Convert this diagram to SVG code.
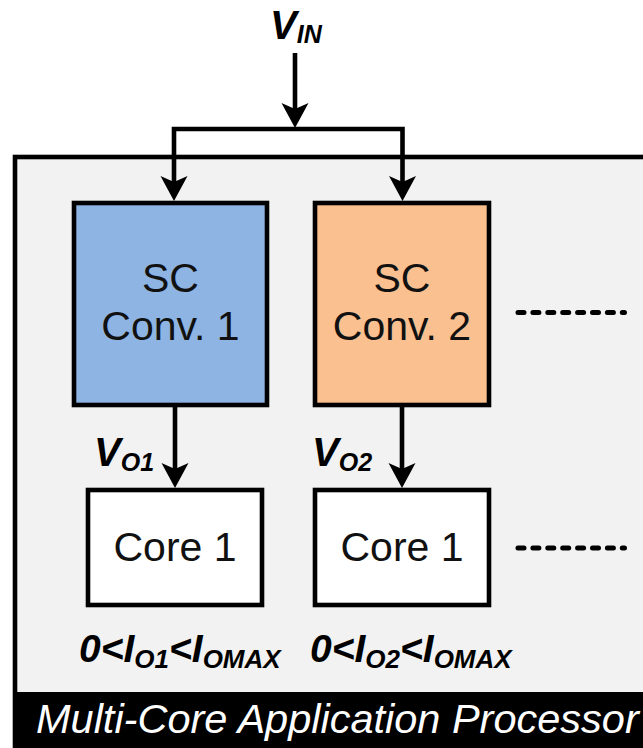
<svg xmlns="http://www.w3.org/2000/svg" width="643" height="748" viewBox="0 0 643 748">
  <style>
    .wire { fill: none; stroke: #000; stroke-width: 4.6; stroke-linejoin: miter; }
    .box { stroke: #000; stroke-width: 4.6; }
    .dots { stroke: #000; stroke-width: 5; stroke-linecap: round; stroke-dasharray: 6 8.9; }
    .lbl { font-family: "Liberation Sans", Arial, sans-serif; font-size: 41px; fill: #111; text-anchor: middle; }
    .sig { font-family: "Liberation Sans", Arial, sans-serif; font-weight: bold; font-style: italic; fill: #000; }
    .title { font-family: "Liberation Sans", Arial, sans-serif; font-style: italic; font-size: 41.5px; fill: #fff; }
  </style>
  <defs>
    <!-- downward arrowhead, tip at origin -->
    <path id="head" d="M0,0 L-13.5,-25 L0,-19 L13.5,-25 Z" fill="#000"/>
  </defs>

  <!-- processor enclosure -->
  <g id="processor">
    <rect x="15" y="157" width="700" height="620" fill="#f2f2f2" class="box"/>
    <rect x="13" y="692" width="640" height="60" fill="#000"/>
    <text class="title" x="36" y="733">Multi-Core Application Processor</text>
  </g>

  <!-- input supply label -->
  <g id="vin">
    <text class="sig" x="270" y="39" font-size="40">V<tspan font-size="25" dy="4">IN</tspan></text>
  </g>

  <g id="sc1">
    <rect x="74" y="203" width="193" height="202" fill="#8eb4e3" class="box"/>
    <text class="lbl" x="170.5" y="292">SC</text>
    <text class="lbl" x="170.5" y="340">Conv. 1</text>
  </g>

  <g id="sc2">
    <rect x="315" y="203" width="174" height="202" fill="#fac090" class="box"/>
    <text class="lbl" x="402" y="292">SC</text>
    <text class="lbl" x="402" y="340">Conv. 2</text>
  </g>

  <g id="core1">
    <rect x="88" y="490" width="174" height="115" fill="#fff" class="box"/>
    <text class="lbl" x="175" y="561">Core 1</text>
  </g>

  <g id="core2">
    <rect x="315" y="490" width="174" height="115" fill="#fff" class="box"/>
    <text class="lbl" x="402" y="561">Core 1</text>
  </g>

  <g id="vo1-label">
    <text class="sig" x="94" y="466" font-size="40">V<tspan font-size="25" dy="5">O1</tspan></text>
  </g>
  <g id="vo2-label">
    <text class="sig" x="312" y="466" font-size="40">V<tspan font-size="25" dy="5">O2</tspan></text>
  </g>

  <g id="io1-label">
    <text class="sig" x="79" y="662" font-size="39">0&lt;I<tspan font-size="26" dy="6">O1</tspan><tspan dy="-6">&lt;I</tspan><tspan font-size="26" dy="6">OMAX</tspan></text>
  </g>
  <g id="io2-label">
    <text class="sig" x="310" y="662" font-size="39">0&lt;I<tspan font-size="26" dy="6">O2</tspan><tspan dy="-6">&lt;I</tspan><tspan font-size="26" dy="6">OMAX</tspan></text>
  </g>

  <!-- more converters / cores continue to the right -->
  <g id="more">
    <line class="dots" x1="518" y1="312.5" x2="624.5" y2="312.5"/>
    <line class="dots" x1="518" y1="548" x2="624.5" y2="548"/>
  </g>

  <g id="connectors">
    <line class="wire" x1="295" y1="53" x2="295" y2="115"/>
    <use href="#head" x="295" y="128"/>
    <path class="wire" d="M174,186 V129 H402.5 V186"/>
    <use href="#head" x="174" y="201"/>
    <use href="#head" x="402.5" y="201"/>
    <line class="wire" x1="175" y1="405" x2="175" y2="472"/>
    <use href="#head" x="175" y="488"/>
    <line class="wire" x1="402" y1="405" x2="402" y2="472"/>
    <use href="#head" x="402" y="488"/>
  </g>
</svg>
